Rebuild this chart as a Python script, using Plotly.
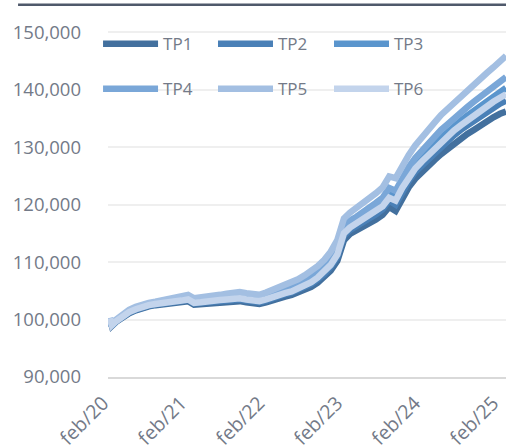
import plotly.graph_objects as go

dates = ["2020-02-01", "2020-02-10"] + [f"{y}-{m:02d}-01" for y in range(2020, 2026) for m in range(1, 13)
                                       if (y, m) >= (2020, 3) and (y, m) <= (2025, 3)]

tp1 = [100100, 98900, 99600, 100500, 101100, 101600, 102000, 102300, 102500, 102600, 102800, 102900,
       103000, 103200, 102600, 102700, 102800, 102900, 103000, 103100, 103200, 103200, 103000, 102800,
       102700, 103000, 103400, 103700, 104000, 104300, 104700, 105100, 105700, 106400, 107300, 108500,
       110200, 113800, 114900, 115500, 116100, 116700, 117400, 118200, 119600, 118900, 121200, 123000,
       124500, 125500, 126600, 127800, 128800, 129700, 130700, 131500, 132300, 133000, 133800, 134500,
       135200, 135800, 136200]
tp2 = [100100, 98900, 99700, 100600, 101200, 101700, 102100, 102400, 102600, 102700, 102900, 103100,
       103200, 103400, 102800, 102900, 103000, 103100, 103300, 103400, 103500, 103500, 103300, 103100,
       103000, 103300, 103700, 104100, 104400, 104700, 105200, 105600, 106200, 107000, 107900, 109200,
       110900, 114600, 115600, 116300, 116900, 117600, 118300, 119200, 120700, 120000, 122300, 124100,
       125700, 126800, 127900, 129100, 130200, 131100, 132100, 133000, 133800, 134600, 135400, 136200,
       136900, 137600, 138100]
tp3 = [100200, 99000, 99800, 100700, 101400, 101900, 102300, 102600, 102800, 102900, 103100, 103200,
       103400, 103700, 103100, 103200, 103300, 103400, 103500, 103700, 103800, 103900, 103700, 103500,
       103400, 103700, 104100, 104500, 104800, 105200, 105700, 106200, 106800, 107600, 108600, 109900,
       111700, 115400, 116500, 117100, 117800, 118500, 119300, 120200, 121800, 121300, 123600, 125400,
       126900, 128100, 129300, 130500, 131700, 132600, 133700, 134600, 135500, 136300, 137200, 138000,
       138900, 139600, 140300]
tp4 = [100200, 99000, 99800, 100800, 101500, 102000, 102400, 102700, 102900, 103000, 103200, 103400,
       103600, 103900, 103300, 103400, 103500, 103600, 103800, 104000, 104100, 104200, 104000, 103800,
       103700, 104100, 104500, 104800, 105200, 105600, 106100, 106700, 107400, 108200, 109200, 110500,
       112400, 116200, 117200, 117900, 118600, 119400, 120300, 121200, 122900, 122400, 124700, 126500,
       128100, 129400, 130600, 131800, 133000, 134000, 135100, 136100, 137000, 137900, 138800, 139700,
       140600, 141400, 142200]
tp5 = [100300, 99100, 100000, 101000, 101700, 102200, 102600, 102900, 103100, 103300, 103500, 103700,
       103900, 104300, 103700, 103800, 104000, 104100, 104300, 104500, 104600, 104800, 104600, 104400,
       104300, 104700, 105100, 105500, 105900, 106400, 107000, 107700, 108400, 109300, 110400, 111800,
       113800, 117600, 118600, 119400, 120200, 121000, 122000, 123000, 124900, 124600, 126800, 128600,
       130300, 131800, 133000, 134300, 135600, 136700, 137800, 138900, 139900, 140900, 141900, 142900,
       143900, 144900, 145900]
tp6 = [100200, 99000, 99700, 100700, 101300, 101800, 102200, 102500, 102700, 102800, 103000, 103100,
       103300, 103500, 102900, 103000, 103200, 103300, 103400, 103500, 103600, 103700, 103500, 103300,
       103200, 103500, 103900, 104300, 104600, 104900, 105400, 105900, 106500, 107300, 108300, 109500,
       111300, 115000, 116000, 116700, 117400, 118000, 118800, 119700, 121200, 120700, 122900, 124700,
       126300, 127500, 128600, 129800, 130900, 131900, 132900, 133800, 134700, 135400, 136300, 137100,
       137900, 138600, 139200]

series_names = ["TP1", "TP2", "TP3", "TP4", "TP5", "TP6"]
series_values = [tp1, tp2, tp3, tp4, tp5, tp6]
colors = ["#43709e", "#4a80b7", "#5a95cd", "#7aa7d8", "#a3bfe2", "#c3d4ec"]

tick_vals = ["2020-02-01", "2021-02-01", "2022-02-01", "2023-02-01", "2024-02-01", "2025-02-01"]
tick_text = ["feb/20", "feb/21", "feb/22", "feb/23", "feb/24", "feb/25"]
y_ticks = [90000, 100000, 110000, 120000, 130000, 140000, 150000]
y_text = ["90,000", "100,000", "110,000", "120,000", "130,000", "140,000", "150,000"]

FONT = "Open Sans, sans-serif"
TXT = "#737a88"

legend_ids = ["legend", "legend2", "legend3", "legend4", "legend5", "legend6"]
legend_x = [-0.025, 0.2638, 0.5553, -0.025, 0.2638, 0.5553]
legend_y = [0.9196, 0.9196, 0.9196, 0.795, 0.795, 0.795]

fig = go.Figure()
for name, vals, col, lid in zip(series_names, series_values, colors, legend_ids):
    fig.add_trace(go.Scatter(
        x=dates, y=vals, name=name, mode="lines",
        line=dict(color=col, width=6.5), legend=lid,
    ))

legends = {}
for lid, lx, ly in zip(legend_ids, legend_x, legend_y):
    legends[lid] = dict(
        x=lx, y=ly, orientation="h", xanchor="left", yanchor="middle",
        font=dict(family=FONT, size=17, color=TXT),
        bgcolor="rgba(0,0,0,0)", itemwidth=55, itemclick=False,
    )

fig.update_layout(
    width=506, height=447,
    margin=dict(l=108, r=0, t=15, b=70, autoexpand=False),
    paper_bgcolor="white", plot_bgcolor="white",
    showlegend=True,
    xaxis=dict(
        type="date", range=["2020-01-23", "2025-03-01"],
        tickmode="array", tickvals=tick_vals, ticktext=tick_text,
        tickangle=-45, tickfont=dict(family=FONT, size=19.5, color=TXT),
        showgrid=False, showline=True, linecolor="#d9d9d9", linewidth=2,
        ticks="", zeroline=False, automargin=False, ticklabeloverflow="allow",
        ticklabelshift=-7, ticklabelstandoff=5,
    ),
    yaxis=dict(
        range=[90000, 153000],
        tickmode="array", tickvals=y_ticks, ticktext=y_text,
        tickfont=dict(family=FONT, size=18.5, color=TXT),
        showgrid=True, gridcolor="#efefef", gridwidth=2,
        zeroline=False, showline=False, ticks="", ticklabelstandoff=26,
        automargin=False,
    ),
    shapes=[dict(type="line", xref="paper", yref="paper",
                 x0=-0.226, x1=1.0, y0=1.028, y1=1.028,
                 line=dict(color="#4f596b", width=2.5))],
    **legends,
)
fig.write_html("out.html", config={"displayModeBar": False},
               post_script="document.body.style.margin='0';document.body.style.padding='0';")
